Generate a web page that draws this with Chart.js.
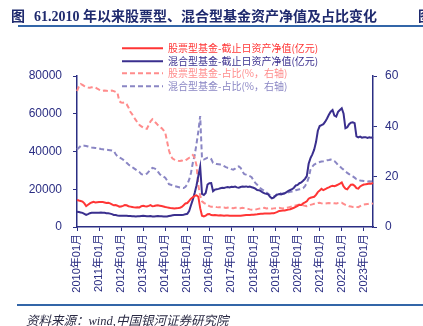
<!DOCTYPE html>
<html>
<head>
<meta charset="utf-8">
<script src="https://cdn.jsdelivr.net/npm/chart.js@4.4.0/dist/chart.umd.min.js"></script>
<style>
html, body { margin: 0; padding: 0; background: #fff; width: 423px; height: 326px; overflow: hidden; }
body { position: relative; }
#chart { position: absolute; left: 0; top: 0; }
.title { position: absolute; top: 5px; font: bold 14px "Liberation Serif", "Noto Sans CJK SC", serif; color: #1F2A6E; white-space: nowrap; }
.rule { position: absolute; height: 2px; background: #3366A8; }
.source { position: absolute; left: 26px; top: 310px; font: italic 12.5px "Liberation Serif", "Noto Sans CJK SC", serif; color: #2A2A44; white-space: nowrap; }
.legend { position: absolute; left: 122px; top: 42px; font: 10px "Noto Sans CJK SC", "Liberation Sans", sans-serif; }
.legend div { height: 12.5px; line-height: 12.5px; white-space: nowrap; position: relative; }
.legend svg { position: absolute; left: 0; top: 0; }
.legend span { position: absolute; left: 46px; top: 0; }
</style>
</head>
<body>
<canvas id="chart" width="423" height="326"></canvas>
<div class="title" style="left:11px">图<span style="margin-left:9px">61.2010 年以来股票型、混合型基金资产净值及占比变化</span></div>
<div class="title" style="left:418px">图</div>
<div class="rule" style="left:18px; top:25px; width:405px"></div>
<div class="legend" id="legend"></div>
<div class="rule" style="left:17px; top:304px; width:406px"></div>
<div class="source">资料来源：wind,中国银河证券研究院</div>
<script>
const AXIS_COLOR = '#2B2E83';
const RED = '#FF3535';
const NAVY = '#3A2F8E';
const LIGHT_RED = '#FF8C8C';
const LAVENDER = '#8A86C4';
const FONT = '"Liberation Sans", "Noto Sans CJK SC", sans-serif';

const YEARS = ['2010', '2011', '2012', '2013', '2014', '2015', '2016', '2017', '2018', '2019', '2020', '2021', '2022', '2023'];
const MONTHS = ['01', '02', '03', '04', '05', '06', '07', '08', '09', '10', '11', '12'];
const LAST_MONTH = 6; // data runs to 2023-06

const SERIES_NAMES = [
    '股票型基金-截止日资产净值(亿元)',
    '混合型基金-截止日资产净值(亿元)',
    '股票型基金-占比(%，右轴)',
    '混合型基金-占比(%，右轴)'
];

// 亿元, monthly
const stockNav = [
    14300, 14000, 13800, 13500, 12500, 11100, 11800, 12500, 13000, 13300, 13000, 13100,
    13200, 13300, 13200, 13000, 12700, 12800, 12500, 12000, 11500, 11600, 11300, 10800,
    10900, 11200, 11600, 11500, 11000, 10800, 10600, 10400, 10300, 10500, 10400, 11000,
    11200, 11000, 10900, 11200, 11600, 11000, 11100, 11400, 11500, 11300, 11100, 10900,
    10600, 10400, 10200, 10000, 9900, 9800, 9900, 10000, 10200, 10600, 11500, 12500,
    12700, 13800, 15000, 15800, 16500, 16800, 16000, 10000, 6000, 5600, 6000, 6800,
    6900, 6300, 6200, 6300, 6200, 6100, 6200, 6100, 6000, 6100, 6100, 6000,
    5900, 5900, 6000, 6000, 5900, 6000, 6100, 6200, 6300, 6400, 6400, 6500,
    6500, 6600, 6700, 6900, 7000, 7000, 7100, 7200, 7200, 7200, 7300, 7300,
    7600, 8000, 8500, 8600, 8700, 8800, 9000, 9200, 9400, 9800, 10200, 10700,
    11200, 11800, 11700, 12500, 13000, 13600, 15000, 15500, 15800, 16000, 17000, 18500,
    19300, 20200, 19500, 20000, 20600, 21000, 21500, 21800, 21600, 22000, 22500, 23000,
    23600, 21500, 20300, 20000, 21200, 22400, 22500, 21800, 20600, 20300, 21500, 22000,
    22500, 22600, 22800, 23000, 22900, 23400
];

const hybridNav = [
    8100, 7900, 7700, 7500, 7000, 6400, 6800, 7300, 7500, 7600, 7500, 7600,
    7600, 7700, 7600, 7500, 7300, 7300, 7100, 6800, 6400, 6300, 6100, 6000,
    5900, 6000, 6000, 5900, 5800, 5800, 5700, 5700, 5600, 5700, 5700, 5800,
    5900, 5800, 5700, 5700, 5800, 5600, 5600, 5700, 5800, 5700, 5700, 5600,
    5600, 5600, 5800, 6000, 6200, 6300, 6300, 6400, 6400, 6400, 6500, 6800,
    7000, 8500, 11500, 14500, 18000, 22000, 27000, 32000, 17500, 17000, 18000, 22500,
    23200, 23300, 19000, 19800, 20000, 20200, 20500, 20800, 20700, 21000, 21200, 21000,
    21300, 21200, 21400, 21000, 20800, 21200, 21400, 21300, 21500, 21200, 21400, 21100,
    20800, 20300, 19600, 19500, 19000, 18300, 17800, 17600, 17300, 16000, 15200, 15500,
    16500, 17200, 17500, 17300, 17600, 17900, 18500, 19200, 19600, 20000, 20800, 22000,
    22300, 23200, 23600, 24500, 25500, 27000, 33500, 36500, 38500, 41000, 45000, 51000,
    53500, 54000, 54500, 55800, 57500, 59500, 61100, 62000, 59000, 58500, 61000, 62000,
    62900, 60000, 52300, 52800, 54500, 55300, 55500, 55000, 48000, 47500, 47900, 47300,
    47500, 47600, 47200, 47500, 47300, 47600
];

// %, right axis
const stockShare = [
    54.0, 55.8, 56.8, 56.5, 56.0, 55.6, 55.4, 55.3, 55.5, 55.6, 55.4, 55.0,
    54.6, 54.3, 54.1, 54.2, 54.1, 54.0, 54.1, 54.2, 54.0, 53.7, 53.4, 50.0,
    49.5, 49.4, 49.5, 48.8, 47.5, 45.8, 44.8, 43.5, 42.5, 41.3, 40.5, 40.0,
    39.5, 39.2, 39.0, 40.5, 42.0, 42.8, 42.0, 41.3, 40.5, 39.8, 39.3, 38.5,
    37.5, 34.0, 30.5, 28.2, 27.2, 26.8, 26.5, 26.3, 26.2, 26.4, 26.2, 26.5,
    27.0, 27.5, 27.8, 28.6, 27.5, 24.5, 16.5, 12.5, 10.2, 9.6, 9.2, 8.8,
    8.3, 8.0, 8.0, 8.1, 7.9, 7.8, 7.8, 7.7, 7.7, 7.6, 7.7, 7.6,
    7.6, 7.5, 7.6, 7.6, 7.5, 7.5, 7.6, 7.5, 7.4, 7.2, 7.0, 6.9,
    6.8, 6.9, 7.1, 7.3, 7.4, 7.5, 7.6, 7.4, 7.5, 7.5, 7.3, 7.4,
    7.5, 7.5, 7.6, 7.5, 7.4, 7.5, 7.6, 7.8, 8.0, 8.2, 8.4, 8.6,
    8.8, 9.0, 8.8, 8.6, 8.4, 8.3, 8.5, 8.8, 9.0, 9.2, 9.3, 9.5,
    9.6, 9.4, 9.2, 9.3, 9.4, 9.5, 9.4, 9.5, 9.4, 9.3, 9.5, 9.6,
    9.6, 9.2, 8.8, 8.5, 8.2, 8.1, 8.0, 8.2, 8.0, 7.9, 8.3, 8.7,
    8.9, 9.0, 9.1, 9.3, 9.2, 9.4
];

const hybridShare = [
    30.8, 31.5, 32.2, 32.4, 32.3, 32.2, 32.0, 31.8, 31.6, 31.5, 31.4, 31.3,
    31.2, 31.0, 30.9, 30.8, 30.7, 30.6, 30.5, 30.4, 30.2, 29.0, 28.0, 27.6,
    27.3, 26.8, 26.2, 25.5, 24.8, 24.3, 23.8, 23.3, 22.8, 22.3, 21.8, 21.0,
    20.8, 20.8, 21.2, 22.0, 22.8, 23.5, 23.3, 23.0, 22.0, 21.0, 20.3, 20.0,
    19.6, 18.5, 17.0, 16.8, 16.5, 16.3, 16.1, 15.9, 15.7, 15.6, 15.5, 16.0,
    17.0, 18.8, 21.5, 25.5, 28.5, 33.0, 38.0, 44.1, 27.0, 26.8, 27.2, 27.5,
    27.5, 27.0, 25.5, 25.3, 25.0, 24.9, 24.8, 24.6, 24.2, 23.8, 23.5, 23.4,
    23.0, 22.8, 23.2, 23.8, 24.1, 23.5, 22.0, 21.0, 20.8, 20.5, 20.2, 19.8,
    18.5, 17.5, 16.8, 16.1, 15.2, 14.8, 14.3, 13.8, 13.2, 12.6, 12.3, 12.1,
    12.5, 13.2, 13.5, 13.3, 13.2, 13.4, 13.6, 13.8, 14.0, 14.1, 14.3, 14.6,
    14.8, 15.0, 15.1, 15.4, 16.2, 17.5, 19.5, 22.8, 24.0, 24.8, 25.2, 25.5,
    25.8, 26.0, 26.1, 26.3, 26.5, 26.6, 26.8, 26.6, 26.2, 25.5, 24.6, 24.1,
    23.3, 22.8, 22.2, 21.5, 21.0, 20.5, 20.1, 19.6, 19.0, 18.8, 18.5, 18.4,
    18.3, 18.2, 18.1, 18.2, 18.1, 18.2
];

const LEFT_TICKS = [0, 20000, 40000, 60000, 80000];
const RIGHT_TICKS = [0, 20, 40, 60];

const labels = [];
YEARS.forEach((y, yi) => {
    MONTHS.forEach((m, mi) => {
        if (yi < YEARS.length - 1 || mi < LAST_MONTH) labels.push(y + '年' + m + '月');
    });
});

const styles = [
    { color: RED, dash: [], axis: 'y' },
    { color: NAVY, dash: [], axis: 'y' },
    { color: LIGHT_RED, dash: [5, 3], axis: 'y1' },
    { color: LAVENDER, dash: [5, 3], axis: 'y1' }
];
const seriesData = [stockNav, hybridNav, stockShare, hybridShare];

// legend drawn as html so it can sit over the plot
const legendEl = document.getElementById('legend');
SERIES_NAMES.forEach((name, i) => {
    const s = styles[i];
    const row = document.createElement('div');
    row.innerHTML = '<svg width="42" height="12.5"><line x1="0" y1="6.25" x2="41" y2="6.25" stroke="' + s.color +
        '" stroke-width="2" stroke-dasharray="' + (s.dash.length ? s.dash.join(',') : 'none') + '"/></svg>' +
        '<span style="color:' + s.color + '">' + name + '</span>';
    legendEl.appendChild(row);
});

const plainNumber = v => String(v);

new Chart(document.getElementById('chart'), {
    type: 'line',
    data: {
        labels: labels,
        datasets: seriesData.map((d, i) => ({
            label: SERIES_NAMES[i],
            data: d,
            yAxisID: styles[i].axis,
            borderColor: styles[i].color,
            borderDash: styles[i].dash,
            borderWidth: 2,
            pointRadius: 0,
            tension: 0,
            fill: false
        }))
    },
    options: {
        responsive: false,
        animation: false,
        devicePixelRatio: 1,
        layout: { padding: { top: 76, left: 0, right: 0, bottom: 0 } },
        plugins: { legend: { display: false }, title: { display: false }, tooltip: { enabled: false } },
        scales: {
            x: {
                offset: false,
                grid: {
                    drawOnChartArea: false,
                    tickLength: 4,
                    color: ctx => (ctx.index % 12 === 0 ? AXIS_COLOR : 'rgba(0,0,0,0)'),
                    lineWidth: 1
                },
                border: { color: AXIS_COLOR, width: 1.5 },
                ticks: {
                    autoSkip: false,
                    minRotation: 90,
                    maxRotation: 90,
                    padding: 3,
                    color: AXIS_COLOR,
                    font: { size: 11, family: FONT },
                    callback: function(v, i) { return i % 12 === 0 ? labels[i] : ''; }
                },
                afterFit: s => { s.height = 99; }
            },
            y: {
                position: 'left',
                min: LEFT_TICKS[0],
                max: LEFT_TICKS[LEFT_TICKS.length - 1],
                afterBuildTicks: s => { s.ticks = LEFT_TICKS.map(v => ({ value: v })); },
                grid: { drawOnChartArea: false, tickLength: 4, color: AXIS_COLOR },
                border: { color: AXIS_COLOR, width: 1.5 },
                ticks: { padding: 11, color: AXIS_COLOR, font: { size: 12, family: FONT }, callback: plainNumber },
                afterFit: s => { s.width = 77; }
            },
            y1: {
                position: 'right',
                min: RIGHT_TICKS[0],
                max: RIGHT_TICKS[RIGHT_TICKS.length - 1],
                afterBuildTicks: s => { s.ticks = RIGHT_TICKS.map(v => ({ value: v })); },
                grid: { drawOnChartArea: false, tickLength: 4, color: AXIS_COLOR },
                border: { color: AXIS_COLOR, width: 1.5 },
                ticks: { padding: 8, color: AXIS_COLOR, font: { size: 12, family: FONT }, callback: plainNumber },
                afterFit: s => { s.width = 50; }
            }
        }
    }
});
</script>
</body>
</html>
